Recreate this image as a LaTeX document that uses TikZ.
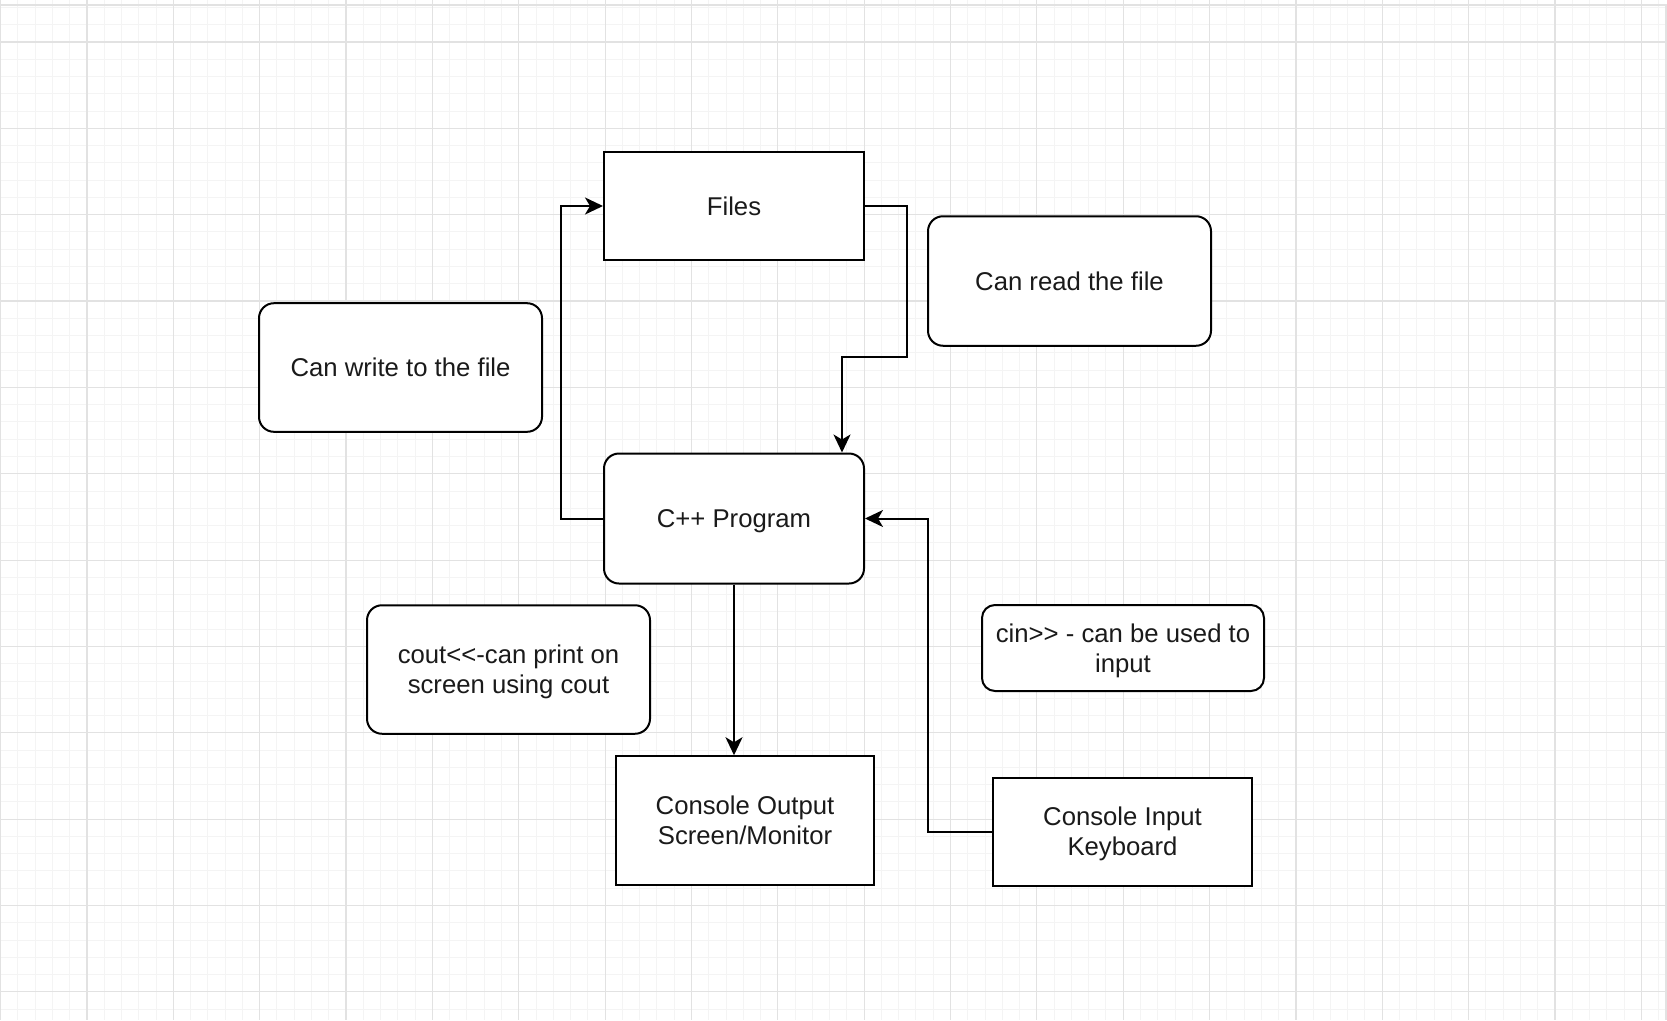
\documentclass[tikz,border=0pt]{standalone}
\usepackage{fontspec}
\setmainfont{Liberation Sans}
\usetikzlibrary{arrows.meta}
\definecolor{gridminor}{HTML}{F4F4F4}
\definecolor{gridmajor}{HTML}{E2E2E2}
\definecolor{txt}{HTML}{1A1A1A}
\tikzset{
  box/.style={draw=black, line width=2pt, fill=white, text=txt, align=center,
    font=\fontsize{25.7}{30}\selectfont, inner sep=0pt, text depth=0pt},
  rbox/.style={box, rounded corners=15pt},
  arr/.style={draw=black, line width=2pt, -{Stealth[length=18pt,width=17pt,inset=5pt]}},
}
\begin{document}
\begin{tikzpicture}[x=1pt,y=-1pt]
\useasboundingbox (0,0) rectangle (1667,1020);
\fill[white] (0,0) rectangle (1667,1020);
% grid
\foreach \i in {0,...,96} {
  \draw[gridminor, line width=1pt] ({0.65+17.27*\i},0) -- ({0.65+17.27*\i},1020);
}
\foreach \i in {0,...,58} {
  \draw[gridminor, line width=1pt] (0,{7.46+17.27*\i}) -- (1667,{7.46+17.27*\i});
}
\foreach \i in {0,...,19} {
  \draw[gridmajor, line width=1.2pt] ({0.65+86.35*\i},0) -- ({0.65+86.35*\i},1020);
}
\foreach \i in {0,...,11} {
  \draw[gridmajor, line width=1.2pt] (0,{42+86.35*\i}) -- (1667,{42+86.35*\i});
}
\draw[gridmajor, line width=2pt] (0,5) -- (1667,5);
\draw[gridmajor, line width=2pt] (1665.5,5) -- (1665.5,1020);

% nodes
\node[box, minimum width=260, minimum height=107.5] (files) at (734,206) {Files};
\node[rbox, minimum width=260, minimum height=130] (cpp) at (734,518.5) {C++ Program};
\node[box, minimum width=258, minimum height=128.5] (conout) at (745,820.5) {Console Output\\Screen/Monitor};
\node[box, minimum width=259, minimum height=108] (conin) at (1122.5,831.5) {Console Input\\Keyboard};
\node[rbox, rounded corners=13pt, minimum width=282, minimum height=86] (cin) at (1123,648) {cin>\kern0pt> - can be used to\\input};
\node[rbox, minimum width=283, minimum height=129.5] (read) at (1069.5,281) {Can read the file};
\node[rbox, minimum width=283, minimum height=128.6] (write) at (400.5,367.5) {Can write to the file};
\node[rbox, minimum width=283, minimum height=128.5] (cout) at (508.5,669.5) {cout<\kern0pt<-can print on\\screen using cout};

% connectors
\coordinate (r1) at (907,357);
\draw[arr] (files.east) -| (r1) -| ([xshift=108pt]cpp.north);
\draw[arr] (cpp.west) -- ++(-42,0) |- (files.west);
\draw[arr] (cpp.south) -- (cpp.south |- conout.north);
\draw[arr] (conin.west) -- ++(-64,0) |- (cpp.east);
\end{tikzpicture}
\end{document}
